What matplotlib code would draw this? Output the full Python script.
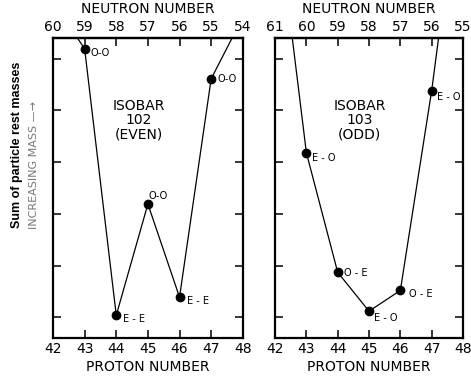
import numpy as np
import matplotlib
matplotlib.use("Agg")
import matplotlib.pyplot as plt

plt.rcParams["font.family"] = ["DejaVu Sans"]

# proton numbers, mass values (arbitrary units, tick = 1)
z_102 = [42, 43, 44, 45, 46, 47, 48]
m_102 = [7.1, 6.19, 1.04, 3.19, 1.39, 5.61, 6.8]
lab_102 = [None, "O-O", "E - E", "O-O", "E - E", "O-O", None]

z_103 = [42, 43, 44, 45, 46, 47, 48]
m_103 = [9.1, 4.18, 1.87, 1.12, 1.52, 5.38, 10.0]
lab_103 = [None, "E - O", "O - E", "E - O", "O - E", "E - O", None]

# label offsets in pixels (dx, dy)
off_102 = [None, (6, -4), (7, -4), (1, 8), (7, -4), (6, 0), None]
off_103 = [None, (6, -5), (6, -1), (5, -7), (9, -4), (5, -6), None]

panels = [
    (102, z_102, m_102, lab_102, off_102, "ISOBAR\n102\n(EVEN)"),
    (103, z_103, m_103, lab_103, off_103, "ISOBAR\n103\n(ODD)"),
]

fig = plt.figure(figsize=(4.71, 3.79), dpi=100)
rects = [[0.1125, 0.108, 0.403, 0.792], [0.584, 0.108, 0.399, 0.792]]

for rect, (A, z, m, labs, offs, title) in zip(rects, panels):
    ax = fig.add_axes(rect)
    ax.plot(z, m, color="black", lw=0.9)
    ax.plot(z[1:-1], m[1:-1], "o", color="black", ms=6)
    for zi, mi, lab, off in zip(z, m, labs, offs):
        if lab is None:
            continue
        ax.annotate(lab, (zi, mi), xytext=off, textcoords="offset pixels",
                    ha="left", va="center", fontsize=7)

    ax.set_xlim(42, 48)
    ax.set_ylim(0.6, 6.4)
    ax.set_xticks(range(42, 49))
    ax.set_yticks(range(1, 7))
    ax.set_yticklabels([])
    ax.tick_params(direction="in", length=6, width=1.1, labelsize=10,
                   left=True, right=True, bottom=True, top=False, pad=3)
    for s in ax.spines.values():
        s.set_linewidth(1.6)
    ax.set_xlabel("PROTON NUMBER", fontsize=10, labelpad=3)

    sec = ax.secondary_xaxis("top", functions=(lambda x, A=A: A - x,
                                               lambda x, A=A: A - x))
    sec.set_xticks(range(A - 48, A - 41))
    sec.tick_params(direction="in", length=6, width=1.1, labelsize=10, pad=3)
    sec.spines["top"].set_linewidth(1.6)
    sec.set_xlabel("NEUTRON NUMBER", fontsize=10, labelpad=5)

    ax.text(0.45, 0.725, title, transform=ax.transAxes, ha="center",
            va="center", fontsize=10, linespacing=1.0)

fig.text(0.036, 0.617, "Sum of particle rest masses", rotation=90,
         ha="center", va="center", fontsize=9, fontweight="bold",
         family="Liberation Sans")
fig.text(0.072, 0.565, "INCREASING MASS \u2014\u2192", rotation=90,
         ha="center", va="center", fontsize=8, color="#777777")

fig.savefig("out.png", dpi=100)
